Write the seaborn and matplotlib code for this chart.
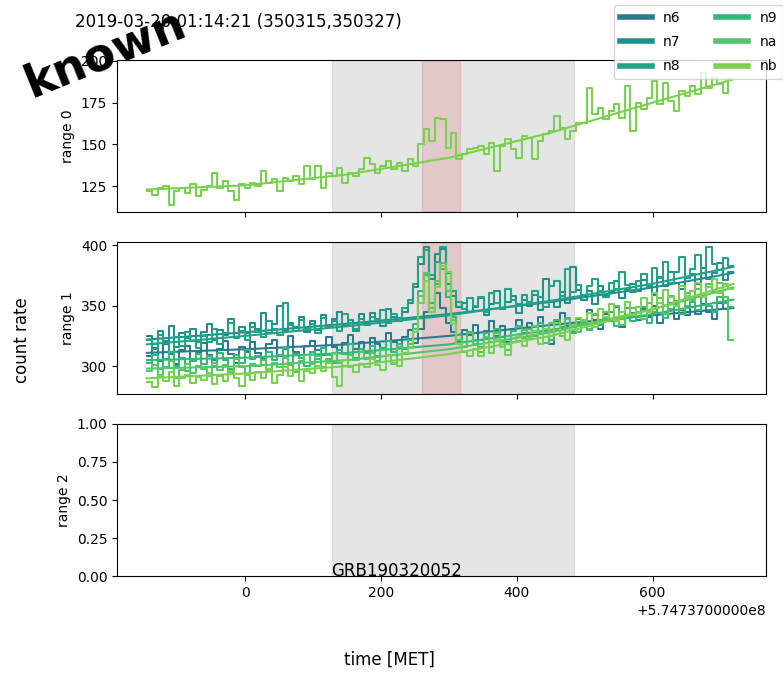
import numpy as np
import pandas as pd
import seaborn as sns
import matplotlib.pyplot as plt
from matplotlib.lines import Line2D
from matplotlib.ticker import ScalarFormatter, MultipleLocator, FormatStrFormatter

# MET reference and binning of the light curves
met0 = 574737000.0
t_start = -145.0
bin_width = 8.0

detectors = ['n6', 'n7', 'n8', 'n9', 'na', 'nb']
det_colors = ['#2a7b8e', '#21908d', '#22a385', '#35b779', '#54c568', '#7ad151']

bkg_interval = [127, 484]
src_interval = [260, 316]

# range 0 (only nb shown)
nb_r0 = [122, 120, 124, 125, 114, 122, 124, 121, 126, 119,
         123, 125, 133, 124, 128, 122, 117, 126, 124, 127,
         125, 134, 127, 129, 122, 130, 128, 131, 126, 137,
         129, 137, 124, 133, 131, 136, 127, 133, 131, 135,
         142, 138, 133, 137, 140, 135, 139, 134, 141, 137,
         150, 159, 152, 166, 165, 148, 157, 141, 144, 147,
         148, 149, 144, 151, 134, 149, 153, 147, 142, 155,
         154, 141, 152, 156, 158, 167, 160, 153, 158, 163,
         163, 184, 168, 172, 165, 170, 174, 166, 185, 158,
         175, 171, 178, 188, 174, 187, 176, 170, 182, 179,
         185, 180, 193, 184, 190, 186, 181, 189]

# range 1, all detectors
n6_r1 = [308, 315, 304, 318, 310, 302, 313, 317, 306, 311,
         319, 309, 305, 314, 321, 310, 303, 316, 312, 320,
         311, 306, 318, 322, 309, 314, 325, 312, 307, 317,
         321, 313, 309, 324, 316, 311, 319, 326, 314, 320,
         312, 323, 318, 315, 327, 320, 316, 324, 330, 319,
         331, 345, 352, 360, 348, 336, 328, 321, 330, 326,
         334, 322, 329, 337, 325, 333, 320, 331, 338, 327,
         336, 329, 341, 330, 318, 337, 344, 333, 328, 339,
         335, 346, 338, 331, 343, 337, 349, 332, 340, 344,
         338, 347, 341, 350, 336, 345, 352, 339, 346, 342,
         349, 343, 351, 345, 339, 352, 347, 348]
n7_r1 = [325, 318, 329, 321, 333, 316, 327, 323, 331, 320,
         328, 335, 322, 330, 326, 339, 324, 332, 327, 336,
         331, 344, 327, 335, 350, 329, 336, 332, 341, 328,
         337, 330, 342, 334, 339, 345, 333, 338, 329, 343,
         336, 344, 339, 333, 347, 341, 337, 345, 352, 365,
         384, 398, 372, 393, 397, 368, 358, 349, 352, 345,
         349, 356, 342, 351, 362, 347, 353, 358, 344, 355,
         350, 359, 346, 372, 354, 349, 361, 352, 382, 363,
         355, 362, 351, 366, 358, 361, 370, 356, 363, 368,
         362, 371, 365, 359, 374, 366, 378, 369, 364, 373,
         376, 368, 381, 372, 377, 385, 371, 378]
n8_r1 = [322, 314, 326, 319, 312, 324, 317, 328, 321, 315,
         325, 320, 331, 318, 327, 336, 323, 329, 322, 332,
         328, 324, 337, 331, 326, 352, 334, 329, 338, 331,
         335, 327, 340, 332, 337, 329, 343, 336, 331, 339,
         334, 341, 338, 346, 336, 343, 340, 348, 355, 368,
         390, 396, 375, 386, 398, 377, 362, 353, 347, 356,
         350, 357, 345, 360, 352, 348, 364, 355, 351, 359,
         353, 362, 357, 349, 366, 370, 358, 380, 361, 367,
         359, 366, 372, 362, 357, 369, 364, 378, 367, 361,
         370, 376, 366, 381, 373, 386, 369, 378, 390, 374,
         380, 392, 377, 398, 384, 379, 389, 383]
n9_r1 = [303, 309, 298, 306, 312, 300, 307, 296, 304, 310,
         302, 308, 300, 311, 305, 298, 309, 303, 313, 306,
         308, 301, 312, 305, 309, 315, 303, 310, 307, 300,
         312, 306, 315, 309, 303, 313, 310, 318, 307, 314,
         311, 317, 308, 315, 321, 312, 318, 314, 322, 335,
         362, 375, 352, 368, 380, 357, 341, 326, 320, 328,
         322, 316, 327, 320, 331, 324, 318, 329, 333, 323,
         331, 325, 336, 329, 322, 338, 332, 340, 327, 335,
         336, 330, 342, 334, 339, 345, 333, 340, 348, 337,
         341, 349, 336, 345, 352, 340, 347, 354, 343, 350,
         353, 346, 358, 350, 345, 357, 352, 349]
na_r1 = [296, 301, 293, 299, 304, 290, 297, 302, 294, 300,
         298, 292, 303, 297, 301, 295, 306, 299, 293, 302,
         300, 305, 296, 303, 299, 307, 301, 295, 304, 309,
         302, 308, 299, 306, 311, 303, 300, 309, 305, 312,
         306, 311, 304, 313, 309, 302, 316, 310, 318, 331,
         358, 377, 348, 370, 385, 362, 338, 322, 316, 327,
         318, 312, 324, 316, 327, 320, 313, 326, 321, 330,
         324, 333, 327, 319, 336, 330, 325, 339, 332, 328,
         337, 331, 343, 336, 345, 339, 350, 334, 342, 348,
         345, 339, 352, 347, 356, 343, 358, 351, 347, 360,
         355, 364, 358, 368, 361, 369, 357, 322]
nb_r1 = [287, 283, 292, 288, 295, 284, 290, 293, 286, 291,
         289, 294, 285, 292, 288, 296, 290, 284, 293, 289,
         295, 290, 298, 286, 293, 299, 292, 297, 288, 296,
         294, 300, 296, 303, 291, 284, 305, 299, 295, 302,
         299, 306, 301, 297, 309, 303, 300, 311, 315, 328,
         352, 370, 345, 365, 383, 378, 335, 318, 312, 308,
         314, 308, 319, 311, 322, 316, 309, 320, 325, 317,
         323, 329, 318, 331, 325, 336, 327, 322, 334, 340,
         338, 344, 332, 347, 341, 351, 337, 345, 353, 342,
         349, 356, 345, 360, 352, 363, 357, 350, 366, 358,
         362, 369, 357, 365, 372, 360, 368, 364]

# background fits, evaluated at a few times
fit_t = [-145, 0, 150, 300, 450, 600, 719]
nb_r0_fit = [123, 125.5, 132, 142, 157, 175, 189]
n6_r1_fit = [311, 314, 318, 325, 334, 342, 348]
n7_r1_fit = [322, 328, 335, 343, 353, 365, 377]
n8_r1_fit = [318, 325, 333, 342, 354, 368, 382]
n9_r1_fit = [305, 307, 311, 318, 330, 343, 355]
na_r1_fit = [298, 300, 305, 314, 328, 347, 365]
nb_r1_fit = [290, 294, 300, 310, 325, 347, 368]

range1 = [n6_r1, n7_r1, n8_r1, n9_r1, na_r1, nb_r1]
range1_fit = [n6_r1_fit, n7_r1_fit, n8_r1_fit, n9_r1_fit, na_r1_fit, nb_r1_fit]

edges = met0 + t_start + bin_width * np.arange(len(nb_r0) + 1)
fit_x = met0 + np.array(fit_t, dtype=float)


class MetFormatter(ScalarFormatter):
    # old style offset text, e.g. +5.7473700000e8
    def get_offset(self):
        return '+' + '{:.10e}'.format(met0).replace('e+0', 'e')


def draw_counts(ax, vals, fit, color):
    y = list(vals) + [vals[-1]]
    sns.lineplot(x=edges, y=y, ax=ax, color=color, lw=1.5,
                 drawstyle='steps-post', estimator=None)
    sns.lineplot(x=fit_x, y=fit, ax=ax, color=color, lw=1.5, estimator=None)


fig, axes = plt.subplots(3, 1, sharex=True, figsize=(7.83, 6.73), dpi=100)
fig.subplots_adjust(left=0.1494, right=0.9783, top=0.9108, bottom=0.1441, hspace=0.197)

for i, ax in enumerate(axes):
    ax.axvspan(met0 + bkg_interval[0], met0 + bkg_interval[1], color='gray', alpha=0.2)
    if i < 2:
        ax.axvspan(met0 + src_interval[0], met0 + src_interval[1], color='tab:red', alpha=0.15)
    ax.set_ylabel(f'range {i}')

draw_counts(axes[0], nb_r0, nb_r0_fit, det_colors[-1])
for vals, fit, c in zip(range1, range1_fit, det_colors):
    draw_counts(axes[1], vals, fit, c)

axes[0].set_ylim(109.5, 200.5)
axes[0].yaxis.set_major_locator(MultipleLocator(25))
axes[1].set_ylim(277, 402.5)
axes[1].yaxis.set_major_locator(MultipleLocator(50))
axes[2].set_ylim(0, 1)
axes[2].yaxis.set_major_locator(MultipleLocator(0.25))
axes[2].yaxis.set_major_formatter(FormatStrFormatter('%.2f'))
axes[2].set_xlim(met0 - 189, met0 + 767)
axes[2].xaxis.set_major_locator(MultipleLocator(200))
axes[2].xaxis.set_major_formatter(MetFormatter(useOffset=met0))

axes[2].text(met0 + bkg_interval[0], 0, 'GRB190320052', fontsize=12)

handles = [Line2D([0], [0], color=c, lw=4) for c in det_colors]
fig.legend(handles, detectors, ncol=2, loc='upper left',
           bbox_to_anchor=(614 / 783, 1 - 5 / 673), borderaxespad=0,
           handlelength=2.3, labelspacing=0.75, columnspacing=2.6, fontsize=10)

fig.text(0.096, 0.967, '2019-03-20 01:14:21 (350315,350327)', fontsize=12, va='center')
fig.text(0.028, 0.495, 'count rate', rotation=90, fontsize=12, ha='center', va='center')
fig.text(0.498, 0.019, 'time [MET]', fontsize=12, ha='center', va='center')
fig.text(105 / 783, 1 - 54 / 673, 'known', fontsize=33, fontweight='bold',
         rotation=22, ha='center', va='center', color='black')

fig.savefig('out.png', dpi=100)
